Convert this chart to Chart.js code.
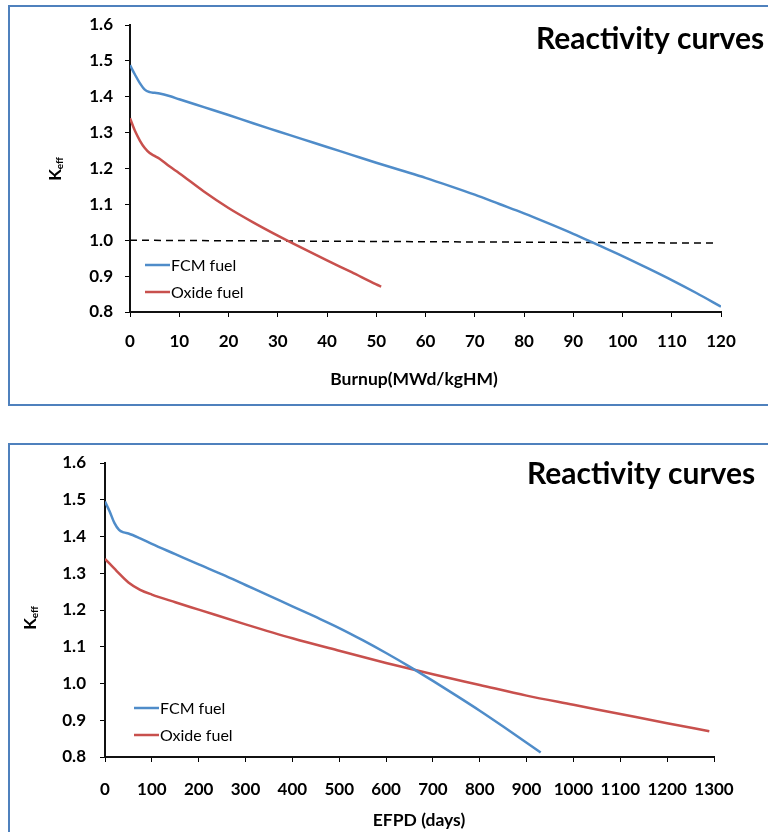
<!DOCTYPE html>
<html>
<head>
<meta charset="utf-8">
<script src="https://cdn.jsdelivr.net/npm/chart.js@4.4.1/dist/chart.umd.min.js"></script>
<style>
  html, body { margin: 0; padding: 0; background: #fff; }
  body { width: 768px; height: 832px; position: relative; overflow: hidden; }
  .box { position: absolute; left: 8px; width: 800px; border: 2px solid #4f81bd; box-sizing: border-box; }
  #box1 { top: 5px; height: 401px; }
  #box2 { top: 443px; height: 420px; }
  canvas { position: absolute; left: 0; }
  #burnupChart { top: 0; }
  #efpdChart { top: 420px; }
</style>
</head>
<body>
<div class="box" id="box1"></div>
<div class="box" id="box2"></div>
<canvas id="burnupChart" width="768" height="420"></canvas>
<canvas id="efpdChart" width="768" height="412"></canvas>
<script>
// Tick labels
const keffTicks = [0.8, 0.9, 1.0, 1.1, 1.2, 1.3, 1.4, 1.5, 1.6];
const burnupTicks = [0, 10, 20, 30, 40, 50, 60, 70, 80, 90, 100, 110, 120];
const efpdTicks = [0, 100, 200, 300, 400, 500, 600, 700, 800, 900, 1000, 1100, 1200, 1300];

// Chart 1: keff vs burnup
const fcmBurnup = [0, 1, 2, 3, 4, 5, 6, 8, 10, 15, 20, 25, 30, 35, 40, 45, 50, 55, 60, 65, 70, 75, 80, 85, 90, 95, 100, 105, 110, 115, 120];
const fcmKeffBurnup = [1.488, 1.462, 1.438, 1.420, 1.413, 1.411, 1.409, 1.402, 1.393, 1.371, 1.349, 1.326, 1.304, 1.282, 1.260, 1.238, 1.216, 1.195, 1.174, 1.151, 1.127, 1.101, 1.075, 1.047, 1.018, 0.987, 0.956, 0.923, 0.889, 0.853, 0.815];
const oxideBurnup = [0, 1, 2, 3, 4, 5, 6, 8, 10, 15, 20, 25, 30, 35, 40, 45, 50, 51];
const oxideKeffBurnup = [1.340, 1.305, 1.278, 1.257, 1.243, 1.235, 1.227, 1.206, 1.187, 1.136, 1.090, 1.050, 1.013, 0.978, 0.944, 0.911, 0.877, 0.871];
const critBurnup = [0, 118.5];
const critKeff = [1.0, 0.992];

// Chart 2: keff vs EFPD
const fcmDays = [0, 10, 20, 30, 40, 50, 75, 100, 150, 200, 250, 300, 350, 400, 450, 500, 550, 600, 650, 700, 750, 800, 850, 900, 930];
const fcmKeffDays = [1.495, 1.468, 1.437, 1.418, 1.411, 1.408, 1.395, 1.380, 1.352, 1.324, 1.297, 1.268, 1.239, 1.210, 1.181, 1.151, 1.118, 1.083, 1.046, 1.007, 0.967, 0.926, 0.883, 0.839, 0.812];
const oxideDays = [0, 25, 50, 75, 100, 150, 200, 300, 400, 500, 600, 700, 800, 900, 1000, 1100, 1200, 1290];
const oxideKeffDays = [1.339, 1.306, 1.275, 1.255, 1.242, 1.221, 1.201, 1.161, 1.123, 1.089, 1.056, 1.025, 0.996, 0.967, 0.942, 0.917, 0.892, 0.870];

const FONT = 'Lato, "Open Sans", sans-serif';
const BLUE = '#4f8cc9';
const RED = '#c8504d';

function pairs(xs, ys) {
    return xs.map((x, i) => ({ x: x, y: ys[i] }));
}

function curve(label, xs, ys, color) {
    return {
        label: label,
        data: pairs(xs, ys),
        borderColor: color,
        backgroundColor: color,
        borderWidth: 2.5,
        pointRadius: 0,
        cubicInterpolationMode: 'monotone',
        fill: false
    };
}

// titles, K_eff label and legend drawn on the canvas
const decorPlugin = {
    id: 'decor',
    afterDraw(chart, args, opts) {
        const ctx = chart.ctx;
        ctx.save();
        ctx.fillStyle = '#000';
        ctx.textBaseline = 'alphabetic';
        ctx.textAlign = 'left';
        ctx.font = 'bold 30px ' + FONT;
        ctx.fillText(opts.title, opts.titleX, opts.titleY);

        ctx.textAlign = 'center';
        ctx.textBaseline = 'middle';
        ctx.font = 'bold 17.5px ' + FONT;
        ctx.fillText(opts.xTitle, opts.xTitleX, opts.xTitleY);

        // K with subscript eff, rotated
        ctx.save();
        ctx.translate(opts.yTitleX, opts.yTitleY);
        ctx.rotate(-Math.PI / 2);
        ctx.textAlign = 'left';
        ctx.textBaseline = 'alphabetic';
        ctx.font = 'bold 17px ' + FONT;
        const kw = ctx.measureText('K').width;
        ctx.font = 'bold 10px ' + FONT;
        const sw = ctx.measureText('eff').width;
        const start = -(kw + sw) / 2;
        ctx.font = 'bold 17px ' + FONT;
        ctx.fillText('K', start, 6);
        ctx.font = 'bold 10px ' + FONT;
        ctx.fillText('eff', start + kw, 8);
        ctx.restore();

        // legend
        ctx.font = '16px ' + FONT;
        ctx.textAlign = 'left';
        ctx.textBaseline = 'middle';
        let y = opts.legendY;
        chart.data.datasets.forEach(ds => {
            if (!ds.label) return;
            ctx.strokeStyle = ds.borderColor;
            ctx.lineWidth = 2.5;
            ctx.beginPath();
            ctx.moveTo(opts.legendX, y);
            ctx.lineTo(opts.legendX + 25, y);
            ctx.stroke();
            ctx.fillText(ds.label, opts.legendX + 26, y + 1);
            y += opts.legendGap;
        });
        ctx.restore();
    }
};

function axisOptions(ticksArr, min, max, isX, width, pad) {
    return {
        type: 'linear',
        min: min,
        max: max,
        afterBuildTicks: s => { s.ticks = ticksArr.map(v => ({ value: v })); },
        afterFit: s => { if (isX) s.height = width; else s.width = width; },
        grid: { drawOnChartArea: false, drawTicks: true, tickLength: 5, color: '#000', lineWidth: 1 },
        border: { display: true, color: '#111', width: 2 },
        ticks: {
            color: '#000',
            padding: pad,
            maxRotation: 0,
            autoSkip: false,
            font: { family: FONT, weight: 'bold', size: 17 },
            callback: v => isX ? String(v) : v.toFixed(1)
        }
    };
}

function baseOptions(xAxis, yAxis, padding, decor) {
    return {
        responsive: false,
        animation: false,
        layout: { padding: padding },
        plugins: {
            legend: { display: false },
            tooltip: { enabled: false },
            decor: decor
        },
        scales: { x: xAxis, y: yAxis }
    };
}

// Burnup chart
const burnupChart = new Chart(document.getElementById('burnupChart').getContext('2d'), {
    type: 'line',
    data: {
        datasets: [
            curve('FCM fuel', fcmBurnup, fcmKeffBurnup, BLUE),
            curve('Oxide fuel', oxideBurnup, oxideKeffBurnup, RED),
            {
                label: '',
                data: pairs(critBurnup, critKeff),
                borderColor: '#000',
                borderWidth: 1.5,
                borderDash: [7, 5],
                pointRadius: 0
            }
        ]
    },
    options: baseOptions(
        axisOptions(burnupTicks, 0, 120, true, 108, 14),
        axisOptions(keffTicks, 0.8, 1.6, false, 130, 12),
        { left: 0, top: 25, right: 47, bottom: 0 },
        {
            title: 'Reactivity curves', titleX: 536, titleY: 49,
            xTitle: 'Burnup(MWd/kgHM)', xTitleX: 414, xTitleY: 379,
            yTitleX: 55, yTitleY: 169,
            legendX: 145, legendY: 265, legendGap: 27
        }
    ),
    plugins: [decorPlugin]
});

// EFPD chart
const efpdChart = new Chart(document.getElementById('efpdChart').getContext('2d'), {
    type: 'line',
    data: {
        datasets: [
            curve('FCM fuel', fcmDays, fcmKeffDays, BLUE),
            curve('Oxide fuel', oxideDays, oxideKeffDays, RED)
        ]
    },
    options: baseOptions(
        axisOptions(efpdTicks, 0, 1300, true, 75, 17),
        axisOptions(keffTicks, 0.8, 1.6, false, 105, 14),
        { left: 0, top: 43, right: 54, bottom: 0 },
        {
            title: 'Reactivity curves', titleX: 527, titleY: 64,
            xTitle: 'EFPD (days)', xTitleX: 419, xTitleY: 400,
            yTitleX: 30, yTitleY: 198,
            legendX: 134, legendY: 288, legendGap: 27
        }
    ),
    plugins: [decorPlugin]
});
</script>
</body>
</html>
